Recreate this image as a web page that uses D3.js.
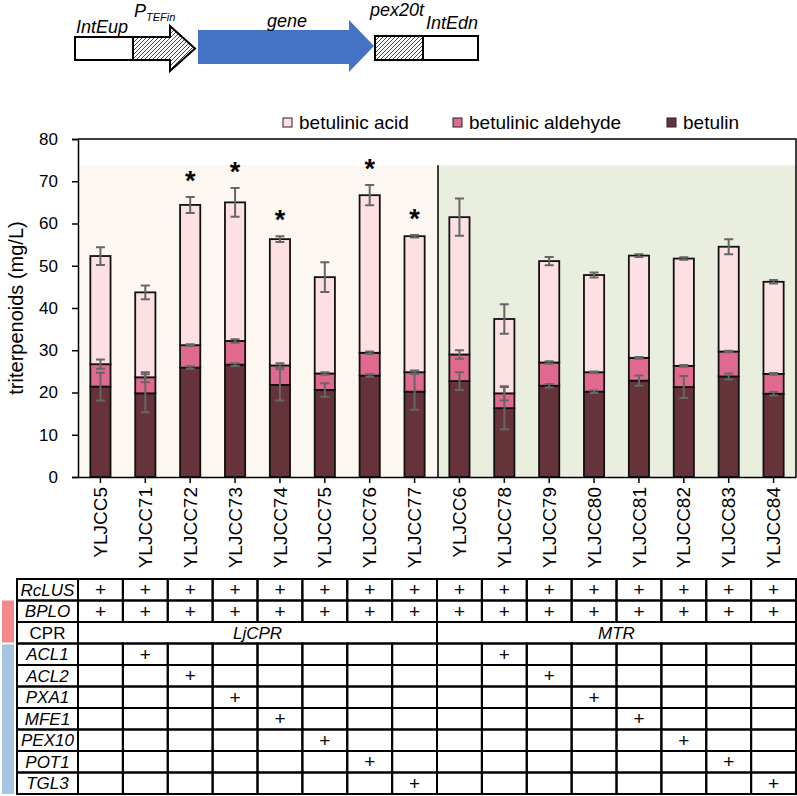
<!DOCTYPE html>
<html>
<head>
<meta charset="utf-8">
<script src="https://cdn.jsdelivr.net/npm/d3@7"></script>
<style>
  body { margin: 0; background: #fff; }
  svg { font-family: "Liberation Sans", Arial, sans-serif; display: block; }
</style>
</head>
<body>
<div id="chart"></div>
<script>
// strains and the three stacked products (mg/L)
var strains = ["YLJCC5", "YLJCC71", "YLJCC72", "YLJCC73", "YLJCC74", "YLJCC75", "YLJCC76", "YLJCC77",
               "YLJCC6", "YLJCC78", "YLJCC79", "YLJCC80", "YLJCC81", "YLJCC82", "YLJCC83", "YLJCC84"];
var betulin  = [21.4, 19.8, 25.9, 26.6, 21.8, 20.6, 24.0, 20.2, 22.7, 16.3, 21.6, 20.2, 22.8, 21.3, 23.8, 19.7];
var aldehyde = [5.3, 3.8, 5.3, 5.6, 4.6, 3.9, 5.4, 4.6, 6.3, 3.5, 5.5, 4.6, 5.4, 5.0, 5.9, 4.7];
var acid     = [25.6, 20.1, 33.2, 32.8, 29.9, 22.8, 37.3, 32.2, 32.5, 17.6, 24.0, 23.0, 24.2, 25.4, 24.8, 21.8];
var errBetulin  = [3.3, 4.5, 0.3, 0.3, 3.7, 1.6, 0.3, 4.3, 2.1, 5.0, 0.4, 0.3, 1.2, 2.6, 0.7, 0.4];
var errAldehyde = [1.1, 1.2, 0.2, 0.4, 0.5, 0.3, 0.3, 0.4, 1.0, 1.7, 0.3, 0.2, 0.2, 0.2, 0.2, 0.2];
var errAcid     = [2.1, 1.6, 1.9, 3.4, 0.7, 3.5, 2.4, 0.3, 4.4, 3.5, 1.0, 0.6, 0.3, 0.3, 1.8, 0.4];
var starred = ["YLJCC72", "YLJCC73", "YLJCC74", "YLJCC76", "YLJCC77"];

var seriesNames = ["betulin", "betulinic aldehyde", "betulinic acid"];
var seriesColors = ["#66333b", "#e06a8f", "#fde0e3"];
var yTicks = [0, 10, 20, 30, 40, 50, 60, 70, 80];

// genotype table
var tableRows = ["RcLUS", "BPLO", "CPR", "ACL1", "ACL2", "PXA1", "MFE1", "PEX10", "POT1", "TGL3"];
var cprByStrain = ["LjCPR", "LjCPR", "LjCPR", "LjCPR", "LjCPR", "LjCPR", "LjCPR", "LjCPR",
                   "MTR", "MTR", "MTR", "MTR", "MTR", "MTR", "MTR", "MTR"];
var extraGene = [null, "ACL1", "ACL2", "PXA1", "MFE1", "PEX10", "POT1", "TGL3",
                 null, "ACL1", "ACL2", "PXA1", "MFE1", "PEX10", "POT1", "TGL3"];
var shadeTop = 73.8;
var shadeColors = { "LjCPR": "#fcf7f1", "MTR": "#eaeedf" };

var W = 797, H = 796;
var plot = { left: 78, right: 796, top: 139, bottom: 477 };

var svg = d3.select("#chart").append("svg")
    .attr("width", W).attr("height", H);

var defs = svg.append("defs");
var hatch = defs.append("pattern")
    .attr("id", "hatch")
    .attr("patternUnits", "userSpaceOnUse")
    .attr("width", 4).attr("height", 4);
hatch.append("rect").attr("width", 4).attr("height", 4).attr("fill", "#fff");
hatch.append("path")
    .attr("d", "M-1,1 l2,-2 M0,4 l4,-4 M3,5 l2,-2")
    .attr("stroke", "#333").attr("stroke-width", 0.9);

// ---- construct diagram ----
var dia = svg.append("g");
dia.append("rect").attr("x", 75).attr("y", 37).attr("width", 58).attr("height", 23)
    .attr("fill", "#fff").attr("stroke", "#000").attr("stroke-width", 2);
dia.append("path")
    .attr("d", "M133,37 L170,37 L170,26 L195,48.5 L170,71 L170,60 L133,60 Z")
    .attr("fill", "url(#hatch)").attr("stroke", "#000").attr("stroke-width", 2);
dia.append("path")
    .attr("d", "M198,30 L349,30 L349,20 L374,46 L349,72 L349,64 L198,64 Z")
    .attr("fill", "#4472c4");
dia.append("rect").attr("x", 375).attr("y", 36).attr("width", 48).attr("height", 24)
    .attr("fill", "url(#hatch)").attr("stroke", "#000").attr("stroke-width", 2);
dia.append("rect").attr("x", 423).attr("y", 36).attr("width", 55).attr("height", 24)
    .attr("fill", "#fff").attr("stroke", "#000").attr("stroke-width", 2);

var diaText = dia.append("g").attr("font-style", "italic").attr("font-size", 18);
diaText.append("text").attr("x", 76).attr("y", 33).text("IntEup");
var pt = diaText.append("text").attr("x", 134).attr("y", 17);
pt.append("tspan").text("P");
pt.append("tspan").attr("font-size", 11).attr("dy", 4).text("TEFin");
diaText.append("text").attr("x", 287).attr("y", 27).attr("text-anchor", "middle").text("gene");
diaText.append("text").attr("x", 370).attr("y", 16).text("pex20t");
diaText.append("text").attr("x", 426).attr("y", 29).text("IntEdn");

// ---- scales ----
var x = d3.scaleBand()
    .domain(strains)
    .range([plot.left, plot.right])
    .paddingInner(0.55)
    .paddingOuter(0.275);
var step = x.step();

var y = d3.scaleLinear()
    .domain([0, 80])
    .range([plot.bottom, plot.top]);

// background shading per CPR group
var groups = [];
cprByStrain.forEach(function (c, i) {
    if (groups.length && groups[groups.length - 1].name === c) groups[groups.length - 1].last = i;
    else groups.push({ name: c, first: i, last: i });
});
groups.forEach(function (g, k) {
    var x0 = x(strains[g.first]) - x.paddingInner() * step / 2;
    var x1 = x(strains[g.last]) + x.bandwidth() + x.paddingInner() * step / 2;
    if (k === 0) x0 = plot.left;
    if (k === groups.length - 1) x1 = plot.right;
    svg.append("rect")
        .attr("x", x0).attr("y", y(shadeTop))
        .attr("width", x1 - x0).attr("height", y(0) - y(shadeTop))
        .attr("fill", shadeColors[g.name]);
    if (k > 0) {
        svg.append("line")
            .attr("x1", x0 + 1).attr("x2", x0 + 1)
            .attr("y1", y(shadeTop)).attr("y2", y(0))
            .attr("stroke", "#000").attr("stroke-width", 1.5);
    }
});

// frame
svg.append("path")
    .attr("d", "M" + plot.left + "," + plot.top + " H" + plot.right + " V" + plot.bottom)
    .attr("fill", "none").attr("stroke", "#000").attr("stroke-width", 1.5);

// ---- stacked bars ----
var rows = strains.map(function (s, i) {
    return { strain: s, b: betulin[i], a: aldehyde[i], c: acid[i],
             eb: errBetulin[i], ea: errAldehyde[i], ec: errAcid[i] };
});
var stack = d3.stack().keys(["b", "a", "c"]);
var stacked = stack(rows);

svg.append("g").selectAll("g")
    .data(stacked)
    .enter().append("g")
    .attr("fill", function (d, i) { return seriesColors[i]; })
    .selectAll("rect")
    .data(function (d) { return d; })
    .enter().append("rect")
    .attr("x", function (d) { return x(d.data.strain); })
    .attr("y", function (d) { return y(d[1]); })
    .attr("width", x.bandwidth())
    .attr("height", function (d) { return y(d[0]) - y(d[1]); })
    .attr("stroke", "#111")
    .attr("stroke-width", 1.8);

// error bars at the top of each segment
var errKeys = ["eb", "ea", "ec"];
var errG = svg.append("g").attr("stroke", "#666").attr("stroke-width", 2).attr("fill", "none");
stacked.forEach(function (layer, li) {
    layer.forEach(function (d) {
        var cx = x(d.data.strain) + x.bandwidth() / 2;
        var e = d.data[errKeys[li]];
        var yt = y(d[1] + e), yb = y(d[1] - e);
        errG.append("path")
            .attr("d", "M" + (cx - 4.5) + "," + yt + " H" + (cx + 4.5) +
                       " M" + cx + "," + yt + " V" + yb +
                       " M" + (cx - 4.5) + "," + yb + " H" + (cx + 4.5));
    });
});

// significance stars
svg.append("g").selectAll("text")
    .data(rows.filter(function (d) { return starred.indexOf(d.strain) >= 0; }))
    .enter().append("text")
    .attr("x", function (d) { return x(d.strain) + x.bandwidth() / 2; })
    .attr("y", function (d) { return y(d.b + d.a + d.c + d.ec) - 7; })
    .attr("text-anchor", "middle")
    .attr("font-size", 27)
    .attr("font-weight", "bold")
    .text("*");

// ---- axes ----
var yAxis = svg.append("g")
    .attr("transform", "translate(" + plot.left + ",0)")
    .call(d3.axisLeft(y).tickValues(yTicks).tickSize(6).tickPadding(14));
yAxis.select(".domain").attr("stroke-width", 1.5);
yAxis.selectAll(".tick line").attr("stroke-width", 1.5);
yAxis.selectAll("text").attr("font-size", 17).attr("fill", "#000")
    .attr("font-family", "Liberation Sans, Arial, sans-serif");

var xAxis = svg.append("g")
    .attr("transform", "translate(0," + plot.bottom + ")")
    .call(d3.axisBottom(x).tickSize(6).tickSizeOuter(0));
xAxis.select(".domain").attr("stroke-width", 1.5);
xAxis.selectAll(".tick line").attr("stroke-width", 1.5);
xAxis.selectAll("text")
    .attr("font-size", 19).attr("fill", "#000")
    .attr("font-family", "Liberation Sans, Arial, sans-serif")
    .attr("transform", "rotate(-90)")
    .attr("x", -10).attr("y", 0).attr("dy", "0.35em")
    .attr("text-anchor", "end");

svg.append("text")
    .attr("transform", "translate(23," + ((plot.top + plot.bottom) / 2) + ") rotate(-90)")
    .attr("text-anchor", "middle")
    .attr("font-size", 20)
    .text("triterpenoids (mg/L)");

// ---- legend ----
var legendX = [283, 453, 667];
var legendOrder = [2, 1, 0];
var legend = svg.append("g");
legendOrder.forEach(function (si, k) {
    legend.append("rect")
        .attr("x", legendX[k]).attr("y", 118).attr("width", 9).attr("height", 9)
        .attr("fill", seriesColors[si]).attr("stroke", "#222").attr("stroke-width", 1);
    legend.append("text")
        .attr("x", legendX[k] + 16).attr("y", 129)
        .attr("font-size", 19)
        .text(seriesNames[si]);
});

// ---- genotype table ----
var tbl = { left: 17, top: 579, rowH: 21.5 };
var tg = svg.append("g").attr("font-size", 17);

// coloured side stripes
tg.append("rect").attr("x", 2).attr("y", tbl.top + tbl.rowH).attr("width", 12)
    .attr("height", tbl.rowH * 2 - 1).attr("fill", "#f4898a");
tg.append("rect").attr("x", 2).attr("y", tbl.top + tbl.rowH * 3 + 1).attr("width", 12)
    .attr("height", tbl.rowH * 7 - 1).attr("fill", "#a5c5e3");

function cell(x0, x1, r, label, italic) {
    var yy = tbl.top + r * tbl.rowH;
    tg.append("rect")
        .attr("x", x0).attr("y", yy).attr("width", x1 - x0).attr("height", tbl.rowH)
        .attr("fill", "none").attr("stroke", "#000").attr("stroke-width", 2);
    if (label) {
        tg.append("text")
            .attr("x", (x0 + x1) / 2).attr("y", yy + tbl.rowH / 2)
            .attr("dy", "0.35em")
            .attr("text-anchor", "middle")
            .attr("font-style", italic ? "italic" : "normal")
            .attr("font-size", label === "+" ? 19 : 17)
            .text(label);
    }
}

tableRows.forEach(function (gene, r) {
    cell(tbl.left, plot.left, r, gene, gene !== "CPR");
    if (gene === "CPR") {
        groups.forEach(function (g) {
            var x0 = x(strains[g.first]) - x.paddingInner() * step / 2;
            var x1 = x(strains[g.last]) + x.bandwidth() + x.paddingInner() * step / 2;
            if (g.first === 0) x0 = plot.left;
            if (g.last === strains.length - 1) x1 = plot.right;
            cell(x0, x1, r, g.name, true);
        });
        return;
    }
    strains.forEach(function (s, i) {
        var x0 = x(s) - x.paddingInner() * step / 2;
        var x1 = x0 + step;
        var has = (gene === "RcLUS" || gene === "BPLO") || extraGene[i] === gene;
        cell(x0, x1, r, has ? "+" : null, false);
    });
});
</script>
</body>
</html>
